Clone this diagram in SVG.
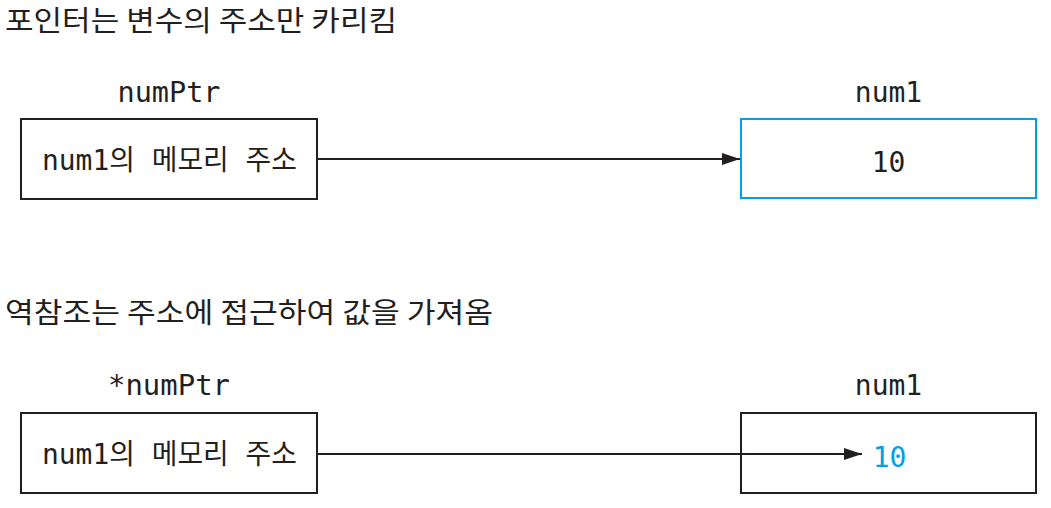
<svg xmlns="http://www.w3.org/2000/svg" width="1051" height="508" viewBox="0 0 1051 508">
<defs>
<style>
.kr{font-family:"Noto Sans CJK KR","Noto Sans",sans-serif;font-size:28px;fill:#231f20}
.mono{font-family:"DejaVu Sans Mono","Noto Sans CJK KR",monospace;font-size:28px;fill:#231f20;text-anchor:middle}
.box{fill:#fff;stroke:#231f20;stroke-width:2}
.blue{stroke:#00a0e9}
.conn{stroke:#231f20;stroke-width:2;fill:none}
</style>
<marker id="ah" markerWidth="18" markerHeight="12" refX="18" refY="6" orient="auto" markerUnits="userSpaceOnUse">
<path d="M0,0 L18,6 L0,12 Z" fill="#231f20"/>
</marker>
</defs>
<rect width="1051" height="508" fill="#fff"/>
<text class="kr" x="5" y="31" textLength="392" lengthAdjust="spacingAndGlyphs">포인터는 변수의 주소만 카리킴</text>
<text class="kr" x="5" y="323" textLength="488" lengthAdjust="spacingAndGlyphs">역참조는 주소에 접근하여 값을 가져옴</text>
<g id="numPtr1">
<text class="mono" x="169" y="102" textLength="103" lengthAdjust="spacingAndGlyphs">numPtr</text>
<rect class="box" x="21" y="119" width="296" height="80"/>
<text class="mono" x="169.5" y="170" textLength="255" lengthAdjust="spacingAndGlyphs">num1의 메모리 주소</text>
</g>
<g id="num1a">
<text class="mono" x="888.5" y="102">num1</text>
<rect class="box blue" x="741" y="119" width="295" height="79"/>
<text class="mono" x="888.5" y="172">10</text>
</g>
<g id="numPtr2">
<text class="mono" x="169" y="395" textLength="122" lengthAdjust="spacingAndGlyphs">*numPtr</text>
<rect class="box" x="21" y="413" width="296" height="80"/>
<text class="mono" x="169.5" y="464" textLength="255" lengthAdjust="spacingAndGlyphs">num1의 메모리 주소</text>
</g>
<g id="num1b">
<text class="mono" x="888.5" y="395">num1</text>
<rect class="box" x="741" y="413" width="295" height="80"/>
<text class="mono" x="889.5" y="467" style="fill:#00a0e9">10</text>
</g>
<g id="connectors">
<line class="conn" x1="317" y1="159" x2="740" y2="159" marker-end="url(#ah)"/>
<line class="conn" x1="317" y1="454" x2="862" y2="454" marker-end="url(#ah)"/>
</g>
</svg>
